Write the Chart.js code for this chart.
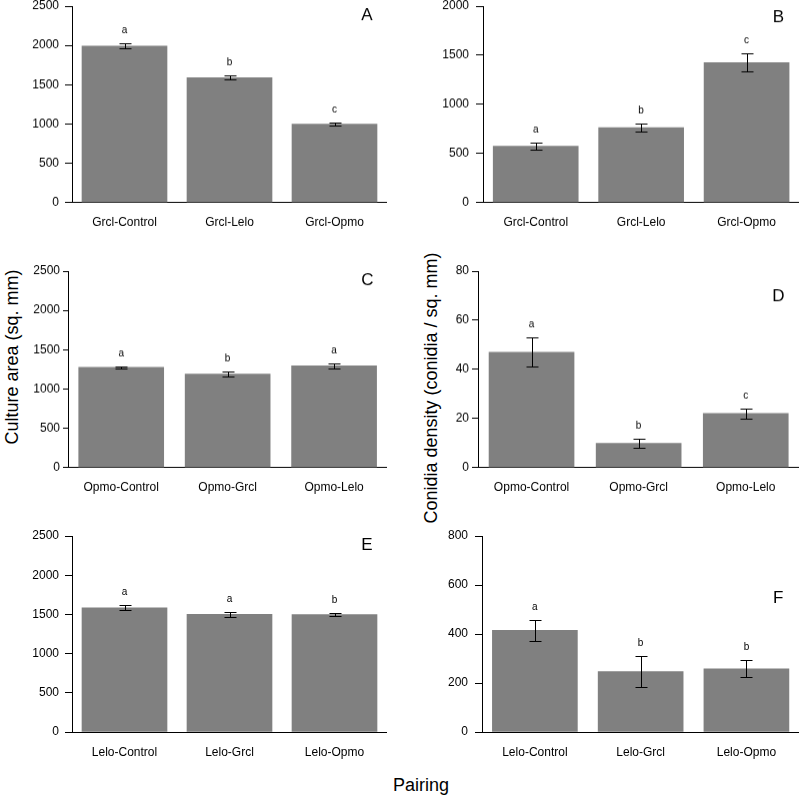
<!DOCTYPE html>
<html>
<head>
<meta charset="utf-8">
<script src="https://cdn.jsdelivr.net/npm/chart.js@4.4.0/dist/chart.umd.min.js"></script>
<style>
  html, body { margin: 0; padding: 0; background: #fff; }
  body { width: 800px; height: 797px; position: relative; overflow: hidden;
    font-family: 'Liberation Sans', Arial, sans-serif; color: #000; }
  .panel { position: absolute; }
  .title { position: absolute; font-size: 18px; white-space: nowrap; }
  .rot { transform: translate(-50%, -50%) rotate(-90deg); }
</style>
</head>
<body>
<div class="title rot" style="left:12px; top:357px;">Culture area (sq. mm)</div>
<div class="title rot" style="left:431px; top:388px;">Conidia density (conidia / sq. mm)</div>
<div class="title" style="left:421px; top:785px; transform: translate(-50%, -50%);">Pairing</div>

<script>
// categories
const grclPairs = ['Grcl-Control', 'Grcl-Lelo', 'Grcl-Opmo'];
const opmoPairs = ['Opmo-Control', 'Opmo-Grcl', 'Opmo-Lelo'];
const leloPairs = ['Lelo-Control', 'Lelo-Grcl', 'Lelo-Opmo'];

// culture area (sq. mm), mean and error
const areaGrcl = [1990, 1588, 998];
const areaGrclErr = [32, 25, 23];
const areaOpmo = [1277, 1188, 1295];
const areaOpmoErr = [14, 33, 30];
const areaLelo = [1583, 1500, 1497];
const areaLeloErr = [31, 28, 19];

// conidia density (conidia / sq. mm), mean and error
const conGrcl = [573, 763, 1425];
const conGrclErr = [33, 41, 92];
const conOpmo = [47, 9.9, 22];
const conOpmoErr = [6, 2, 2.1];
const conLelo = [415, 247, 258];
const conLeloErr = [44, 63, 35];

// significance letters
const lettersA = ['a', 'b', 'c'];
const lettersB = ['a', 'b', 'c'];
const lettersC = ['a', 'b', 'a'];
const lettersD = ['a', 'b', 'c'];
const lettersE = ['a', 'a', 'b'];
const lettersF = ['a', 'b', 'b'];

// y axis ranges
const yMaxArea = 2500, yStepArea = 500;
const yMaxB = 2000, yStepB = 500;
const yMaxD = 80, yStepD = 20;
const yMaxF = 800, yStepF = 200;

const FONT = "'Liberation Sans', Arial, sans-serif";
Chart.defaults.font.family = FONT;
Chart.defaults.font.size = 12;
Chart.defaults.color = '#000';

const barExtras = {
  id: 'barExtras',
  afterDatasetsDraw(chart, args, opts) {
    const { ctx, chartArea } = chart;
    const meta = chart.getDatasetMeta(0);
    const y = chart.scales.y;
    ctx.save();
    ctx.strokeStyle = '#000';
    ctx.lineWidth = 1;
    ctx.fillStyle = '#000';
    ctx.textAlign = 'center';
    ctx.textBaseline = 'middle';
    ctx.font = '10px ' + FONT;
    meta.data.forEach((bar, i) => {
      const m = opts.means[i];
      const e = opts.errs[i];
      const yTop = Math.round(y.getPixelForValue(m + e)) + 0.5;
      const yBot = Math.round(y.getPixelForValue(m - e)) + 0.5;
      const x = Math.round(bar.x) + 0.5;
      ctx.beginPath();
      ctx.moveTo(x, yTop);
      ctx.lineTo(x, yBot);
      ctx.moveTo(x - 6, yTop);
      ctx.lineTo(x + 6, yTop);
      ctx.moveTo(x - 6, yBot);
      ctx.lineTo(x + 6, yBot);
      ctx.stroke();
      ctx.fillText(opts.letters[i], bar.x, yTop - 13);
    });
    ctx.font = '17px ' + FONT;
    ctx.fillText(opts.tag, chartArea.right - opts.tagDx, chartArea.top + opts.tagDy);
    ctx.restore();
  }
};

// plot box in page pixels: l, r, t, b
function makePanel(box, labels, means, errs, letters, yMax, yStep, tag, tagDx, tagDy, tickLen, tickPad) {
  const bx = box.l - 72, by = box.t - 20;
  const div = document.createElement('div');
  div.className = 'panel';
  div.style.left = bx + 'px';
  div.style.top = by + 'px';
  div.style.width = (box.r - bx) + 'px';
  div.style.height = (box.b + 45 - by) + 'px';
  const canvas = document.createElement('canvas');
  div.appendChild(canvas);
  document.body.appendChild(div);

  new Chart(canvas, {
    type: 'bar',
    data: {
      labels: labels,
      datasets: [{
        data: means,
        backgroundColor: '#808080',
        borderWidth: 0,
        barThickness: 85
      }]
    },
    options: {
      responsive: true,
      maintainAspectRatio: false,
      animation: false,
      layout: { padding: { left: 22, top: 20, right: 0, bottom: 5 } },
      plugins: {
        legend: { display: false },
        tooltip: { enabled: false },
        barExtras: { means, errs, letters, tag, tagDx, tagDy }
      },
      scales: {
        x: {
          grid: { display: false, drawTicks: false },
          border: { display: true, color: '#000', width: 1 },
          ticks: { padding: 13, font: { size: 12 }, maxRotation: 0 },
          afterFit: (s) => { s.height = 40; }
        },
        y: {
          min: 0,
          max: yMax,
          grid: { drawOnChartArea: false, drawTicks: true, tickLength: tickLen, color: '#000' },
          border: { display: true, color: '#000', width: 1 },
          ticks: { stepSize: yStep, padding: tickPad, font: { size: 12 }, callback: (v) => String(v) },
          afterFit: (s) => { s.width = 50; }
        }
      }
    },
    plugins: [barExtras]
  });
}

makePanel({ l: 72, r: 387, t: 6, b: 201.7 }, grclPairs, areaGrcl, areaGrclErr, lettersA, yMaxArea, yStepArea, 'A', 20, 9, 7, 6);
makePanel({ l: 482.7, r: 799, t: 6, b: 201.7 }, grclPairs, conGrcl, conGrclErr, lettersB, yMaxB, yStepB, 'B', 21, 11, 7, 7);
makePanel({ l: 67.7, r: 387, t: 271, b: 466.7 }, opmoPairs, areaOpmo, areaOpmoErr, lettersC, yMaxArea, yStepArea, 'C', 20, 9.5, 5, 3);
makePanel({ l: 477.7, r: 799, t: 271, b: 466.7 }, opmoPairs, conOpmo, conOpmoErr, lettersD, yMaxD, yStepD, 'D', 21, 25, 6, 3);
makePanel({ l: 72, r: 387, t: 535.7, b: 731.7 }, leloPairs, areaLelo, areaLeloErr, lettersE, yMaxArea, yStepArea, 'E', 20, 9.3, 7, 6);
makePanel({ l: 481.7, r: 799, t: 535.7, b: 731.7 }, leloPairs, conLelo, conLeloErr, lettersF, yMaxF, yStepF, 'F', 21, 62, 7, 7);
</script>
</body>
</html>
